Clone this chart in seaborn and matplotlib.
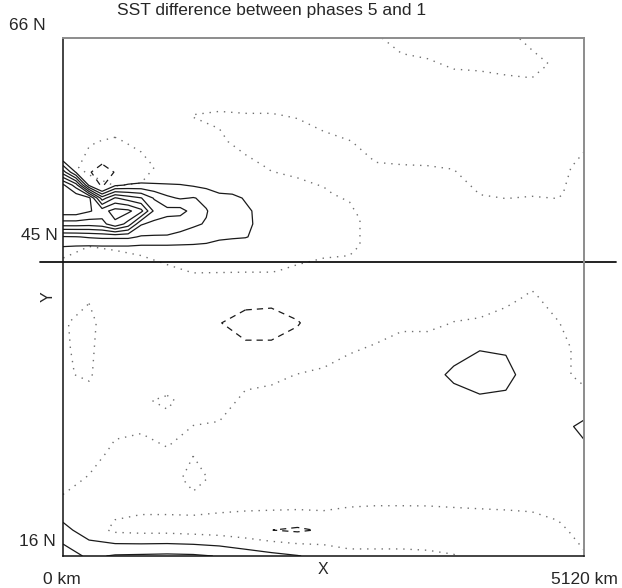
import numpy as np
import matplotlib
matplotlib.use("Agg")
import matplotlib.pyplot as plt
import seaborn as sns

# SST difference between phases 5 and 1 on a coarse grid
# rows run from 66 N (top) down to 16 N (bottom), columns from 0 to 5120 km
x_km = np.linspace(0, 5120, 21)
lat = np.linspace(66, 16, 21)
sst_diff = np.array([
    [0.5, 0.5, 0.5, 0.5, 0.5, 0.5, 0.5, 0.5, 0.5, 0.5, 0.4, 0.3, 0.1, -0.3, -0.4, -0.4, -0.4, -0.3, 0.3, 0.5, 0.5],
    [0.5, 0.5, 0.5, 0.5, 0.5, 0.5, 0.5, 0.5, 0.5, 0.5, 0.5, 0.5, 0.4, 0.2, 0.1, -0.1, -0.15, -0.3, -0.35, 0.2, 0.5],
    [0.5, 0.5, 0.5, 0.5, 0.5, 0.5, 0.5, 0.5, 0.5, 0.5, 0.5, 0.5, 0.5, 0.5, 0.4, 0.4, 0.4, 0.4, 0.3, 0.5, 0.5],
    [0.5, 0.5, 0.5, 0.5, 0.5, -0.02, -0.1, -0.05, -0.05, 0.05, 0.3, 0.4, 0.5, 0.5, 0.5, 0.5, 0.5, 0.5, 0.5, 0.5, 0.5],
    [0.3, 0.05, -0.1, 0.2, 0.4, 0.3, 0.1, -0.2, -0.3, -0.4, -0.2, -0.02, 0.2, 0.4, 0.4, 0.4, 0.4, 0.4, 0.4, 0.4, 0.2],
    [0.3, -0.2, -0.5, -0.3, 0.3, 0.4, 0.4, 0.2, -0.05, -0.2, -0.15, -0.3, -0.05, -0.05, -0.03, 0.03, 0.3, 0.3, 0.3, 0.3, -0.3],
    [0.5, 0.5, 0.2, 0.2, 0.5, 0.5, 0.5, 0.5, 0.3, 0.3, 0.05, -0.1, -0.4, -0.4, -0.4, -0.4, 0.02, 0.1, 0.05, 0.1, -0.4],
    [0.5, 0.5, 0.5, 0.5, 0.5, 0.5, 0.5, 0.5, 0.5, 0.5, 0.4, 0.2, -0.3, -0.4, -0.4, -0.4, -0.4, -0.4, -0.4, -0.4, -0.4],
    [0.3, 0.02, 0.1, 0.2, 0.3, 0.4, 0.4, 0.3, 0.4, 0.3, 0.3, 0.2, -0.3, -0.4, -0.4, -0.4, -0.4, -0.4, -0.4, -0.4, -0.4],
    [-0.3, -0.4, -0.4, -0.3, -0.1, 0.03, 0.03, 0.03, 0.03, -0.1, -0.3, -0.3, -0.4, -0.4, -0.4, -0.4, -0.4, -0.4, -0.3, -0.3, -0.4],
    [-0.3, -0.1, -0.5, -0.5, -0.5, -0.4, -0.5, -0.7, -0.7, -0.6, -0.5, -0.5, -0.5, -0.5, -0.5, -0.4, -0.4, -0.2, 0.1, -0.3, -0.4],
    [-0.08, 0.3, -0.8, -0.6, -0.6, -0.7, -0.97, -1.3, -1.4, -1.05, -0.6, -0.5, -0.4, -0.2, -0.2, 0.02, 0.1, 0.3, 0.4, 0.03, -0.4],
    [-0.08, 0.2, -0.8, -0.6, -0.6, -0.6, -0.7, -0.85, -0.8, -0.7, -0.4, -0.1, 0.1, 0.4, 0.4, 0.6, 0.95, 0.9, 0.5, 0.3, -0.3],
    [-0.08, 0.1, -0.7, -0.6, -0.8, -0.6, -0.5, -0.3, -0.2, 0.02, 0.15, 0.4, 0.5, 0.5, 0.6, 1.2, 1.6, 1.3, 0.5, 0.3, -0.3],
    [-0.4, -0.3, -0.6, -0.15, 0.2, -0.5, -0.4, 0.2, 0.3, 0.4, 0.4, 0.5, 0.5, 0.5, 0.5, 0.6, 0.8, 0.8, 0.5, 0.4, 0.4],
    [-0.5, -0.6, -0.3, -0.15, -0.4, 0.02, 0.1, 0.4, 0.4, 0.4, 0.4, 0.4, 0.4, 0.4, 0.4, 0.4, 0.5, 0.5, 0.5, 0.7, 1.2],
    [-0.6, -0.6, 0.3, 0.4, 0.1, 0.05, 0.3, 0.4, 0.4, 0.4, 0.4, 0.4, 0.4, 0.4, 0.4, 0.4, 0.4, 0.4, 0.4, 0.5, 0.8],
    [-0.5, 0.1, 0.4, 0.4, 0.4, -0.3, 0.25, 0.4, 0.4, 0.4, 0.4, 0.4, 0.4, 0.4, 0.4, 0.4, 0.4, 0.4, 0.4, 0.5, 0.5],
    [0.3, 0.3, 0.3, 0.2, 0.2, 0.3, 0.25, 0.25, 0.3, 0.3, 0.3, 0.1, 0.05, 0.05, 0.05, 0.1, 0.15, 0.2, 0.25, 0.5, 0.5],
    [1.3, 0.5, -0.2, -0.3, -0.3, -0.4, -0.5, -0.7, -0.99, -1.15, -0.9, -0.8, -0.8, -0.8, -0.7, -0.7, -0.7, -0.7, -0.6, -0.3, 0.5],
    [2.6, 1.8, 2.1, 2.15, 2.2, 2.15, 1.95, 1.6, 1.3, 1.05, 0.7, 0.3, 0.3, 0.3, 0.2, 0.05, -0.3, -0.5, -0.6, -0.4, -0.15],
])

# finer patch over the warm anomaly at the western boundary near 45-57 N
x_km_fine = np.arange(17) * 128.0
lat_fine = 56.8 - 1.25 * np.arange(10)
sst_diff_fine = np.array([
    [0.0, 0.0, 0.0, 0.0, 0.0, 0.0, 0.0, 0.0, 0.0, 0.0, 0.0, 0.0, 0.0, 0.0, 0.0, 0.0, 0.0],
    [0.3, 0.0, 0.0, -0.3, -0.2, 0.0, 0.0, 0.0, 0.0, 0.0, 0.0, 0.0, 0.0, 0.0, 0.0, 0.0, 0.0],
    [0.6, 0.2, 0.0, -0.7, -0.4, -0.2, 0.0, 0.0, 0.0, 0.0, 0.0, 0.0, 0.0, 0.0, 0.0, 0.0, 0.0],
    [3.5, 0.9, -0.9, -1.5, -0.95, -0.3, 0.0, 0.0, 0.0, 0.0, 0.0, 0.0, 0.0, 0.0, 0.0, 0.0, 0.0],
    [7.2, 5.5, 0.8, -1.3, 0.8, 1.1, 1.2, 1.15, 1.1, 1.05, 0.9, 0.7, 0.5, 0.3, 0.1, 0.0, 0.0],
    [7.8, 7.8, 7.3, 3.5, 5.1, 4.5, 4.05, 2.9, 2.2, 1.9, 2.05, 1.8, 1.3, 1.3, 0.9, 0.5, 0.2],
    [7.6, 7.6, 7.1, 6.6, 7.4, 7.25, 6.3, 3.8, 3.3, 3.4, 2.6, 2.05, 1.6, 1.4, 1.2, 0.8, 0.3],
    [5.5, 5.5, 5.4, 5.6, 6.8, 5.6, 3.1, 2.7, 2.6, 2.3, 2.1, 1.95, 1.5, 1.3, 1.2, 0.85, 0.3],
    [1.9, 1.95, 2.1, 2.2, 2.2, 2.2, 1.9, 1.9, 1.9, 1.8, 1.7, 1.5, 1.2, 1.1, 1.05, 0.8, 0.3],
    [0.7, 0.6, 0.5, 0.5, 0.5, 0.5, 0.5, 0.5, 0.5, 0.5, 0.5, 0.5, 0.4, 0.4, 0.3, 0.3, 0.2],
])

neg_levels = [-1]
zero_level = [0]
pos_levels_coarse = [1, 2]
pos_levels_fine = [1, 2, 3, 4, 5, 6, 7]
divider_lat = 44.38

lat_labels = ["66 N", "45 N", "16 N"]
x_labels = ["0 km", "5120 km"]

sns.set_theme(style="white")
plt.rcParams['font.family'] = ['Liberation Sans', 'DejaVu Sans']

W, H = 622, 588
fig = plt.figure(figsize=(W / 100, H / 100), dpi=100)
ax = fig.add_axes([63 / W, 32 / H, 521 / W, 518 / H])

line_col = '#1a1a1a'
dot_col = '#707070'

ax.contour(x_km, lat, sst_diff, levels=zero_level, colors=dot_col,
           linewidths=1.0, linestyles=[(0, (1, 4.2))])
ax.contour(x_km, lat, sst_diff, levels=neg_levels, colors=line_col,
           linewidths=0.9, linestyles=[(0, (5, 4))])
ax.contour(x_km, lat, sst_diff, levels=pos_levels_coarse, colors=line_col,
           linewidths=0.9, linestyles='solid')
ax.contour(x_km_fine, lat_fine, sst_diff_fine, levels=neg_levels, colors=line_col,
           linewidths=0.9, linestyles=[(0, (5, 4))])
ax.contour(x_km_fine, lat_fine, sst_diff_fine, levels=pos_levels_fine, colors=line_col,
           linewidths=0.9, linestyles='solid')

ax.set_xlim(0, 5120)
ax.set_ylim(16, 66)
ax.set_xticks([])
ax.set_yticks([])
for side in ['left', 'bottom']:
    ax.spines[side].set_color('#111111')
    ax.spines[side].set_linewidth(1.1)
for side in ['top', 'right']:
    ax.spines[side].set_color('#8c8c8c')
    ax.spines[side].set_linewidth(1.4)

# horizontal divider reaching past both sides of the frame
ax.plot([-23 / 521, 1 + 32 / 521], [divider_lat, divider_lat], color='#111111',
        lw=1.3, transform=ax.get_yaxis_transform(), clip_on=False)

fs = 12.5
def px(x, y):
    return x / W, 1 - y / H

fig.text(*px(272, 11), "SST difference between phases 5 and 1", ha='center', va='center', fontsize=fs)
fig.text(*px(46, 26), lat_labels[0], ha='right', va='center', fontsize=fs)
fig.text(*px(58, 236), lat_labels[1], ha='right', va='center', fontsize=fs)
fig.text(*px(56, 541), lat_labels[2], ha='right', va='center', fontsize=fs)
fig.text(*px(48, 297), "Y", ha='center', va='center', fontsize=fs - 1, rotation=90)
fig.text(*px(62, 579), x_labels[0], ha='center', va='center', fontsize=fs)
fig.text(*px(584, 579), x_labels[1], ha='center', va='center', fontsize=fs)
fig.text(*px(323, 570), "X", ha='center', va='center', fontsize=fs - 1)

fig.savefig("out.png", dpi=100)
